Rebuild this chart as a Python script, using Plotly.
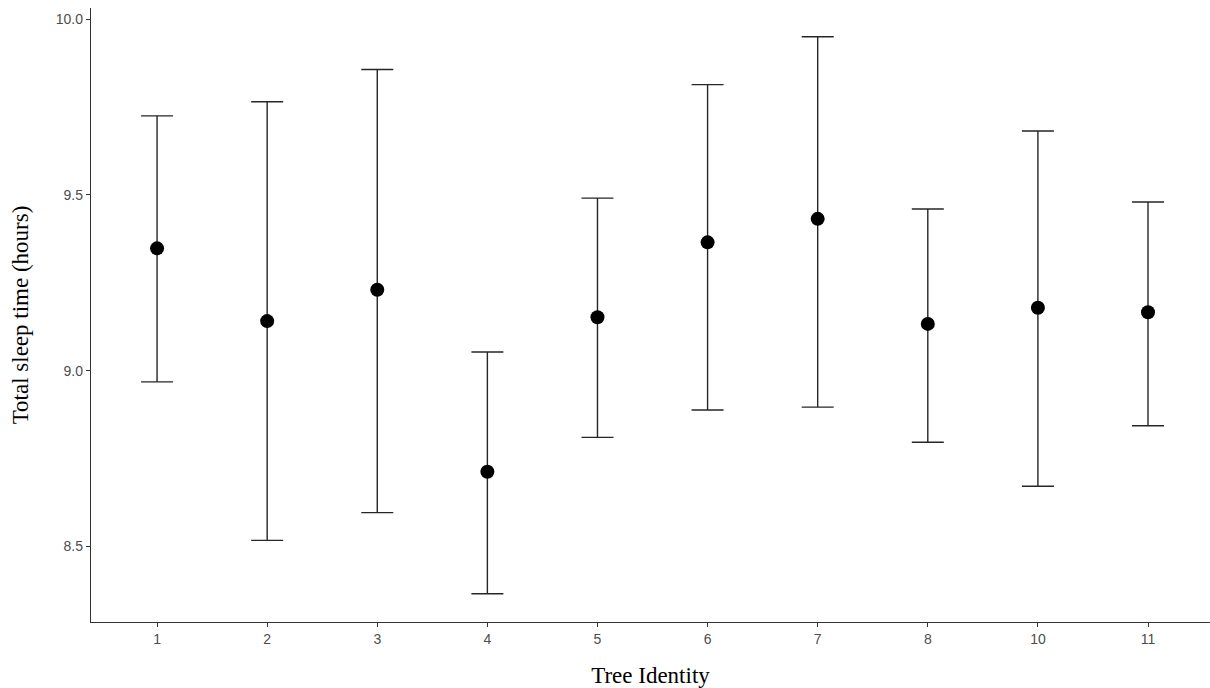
import plotly.graph_objects as go

trees = ["1", "2", "3", "4", "5", "6", "7", "8", "10", "11"]
mean_sleep = [9.348, 9.141, 9.230, 8.712, 9.152, 9.365, 9.432, 9.133, 9.179, 9.166]
upper = [9.725, 9.765, 9.857, 9.053, 9.491, 9.814, 9.950, 9.460, 9.682, 9.480]
lower = [8.968, 8.517, 8.596, 8.365, 8.810, 8.888, 8.896, 8.796, 8.671, 8.843]
y_ticks = [8.5, 9.0, 9.5, 10.0]
y_tick_labels = ["8.5", "9.0", "9.5", "10.0"]

err_plus = [u - m for u, m in zip(upper, mean_sleep)]
err_minus = [m - l for m, l in zip(mean_sleep, lower)]

fig = go.Figure()
fig.add_trace(go.Scatter(
    x=trees, y=mean_sleep, mode="markers",
    marker=dict(color="black", size=14),
    error_y=dict(type="data", symmetric=False, array=err_plus, arrayminus=err_minus,
                 color="#262626", thickness=1.4, width=16),
    showlegend=False,
))

axis_font = dict(family="Liberation Sans, Arial, sans-serif", size=14, color="#4d4d4d")
title_font = dict(family="Liberation Serif, Times New Roman, serif", size=23, color="black")

fig.update_layout(
    width=1210, height=688,
    margin=dict(l=91, r=0, t=8, b=66),
    paper_bgcolor="white", plot_bgcolor="white",
    xaxis=dict(
        type="category", categoryorder="array", categoryarray=trees,
        range=[-0.6, 9.563], showgrid=False, zeroline=False,
        showline=True, linecolor="#333333", linewidth=1.3,
        ticks="outside", ticklen=4, tickcolor="#333333", tickwidth=1,
        tickfont=axis_font,
        title=dict(text="Tree Identity", font=title_font, standoff=21),
    ),
    yaxis=dict(
        range=[8.2846, 10.032], showgrid=False, zeroline=False,
        tickvals=y_ticks, ticktext=y_tick_labels,
        showline=True, linecolor="#333333", linewidth=1.3,
        ticks="outside", ticklen=4, tickcolor="#333333", tickwidth=1,
        tickfont=axis_font,
        title=dict(text="Total sleep time (hours)", font=title_font, standoff=20),
    ),
)

fig.write_html("out.html")
